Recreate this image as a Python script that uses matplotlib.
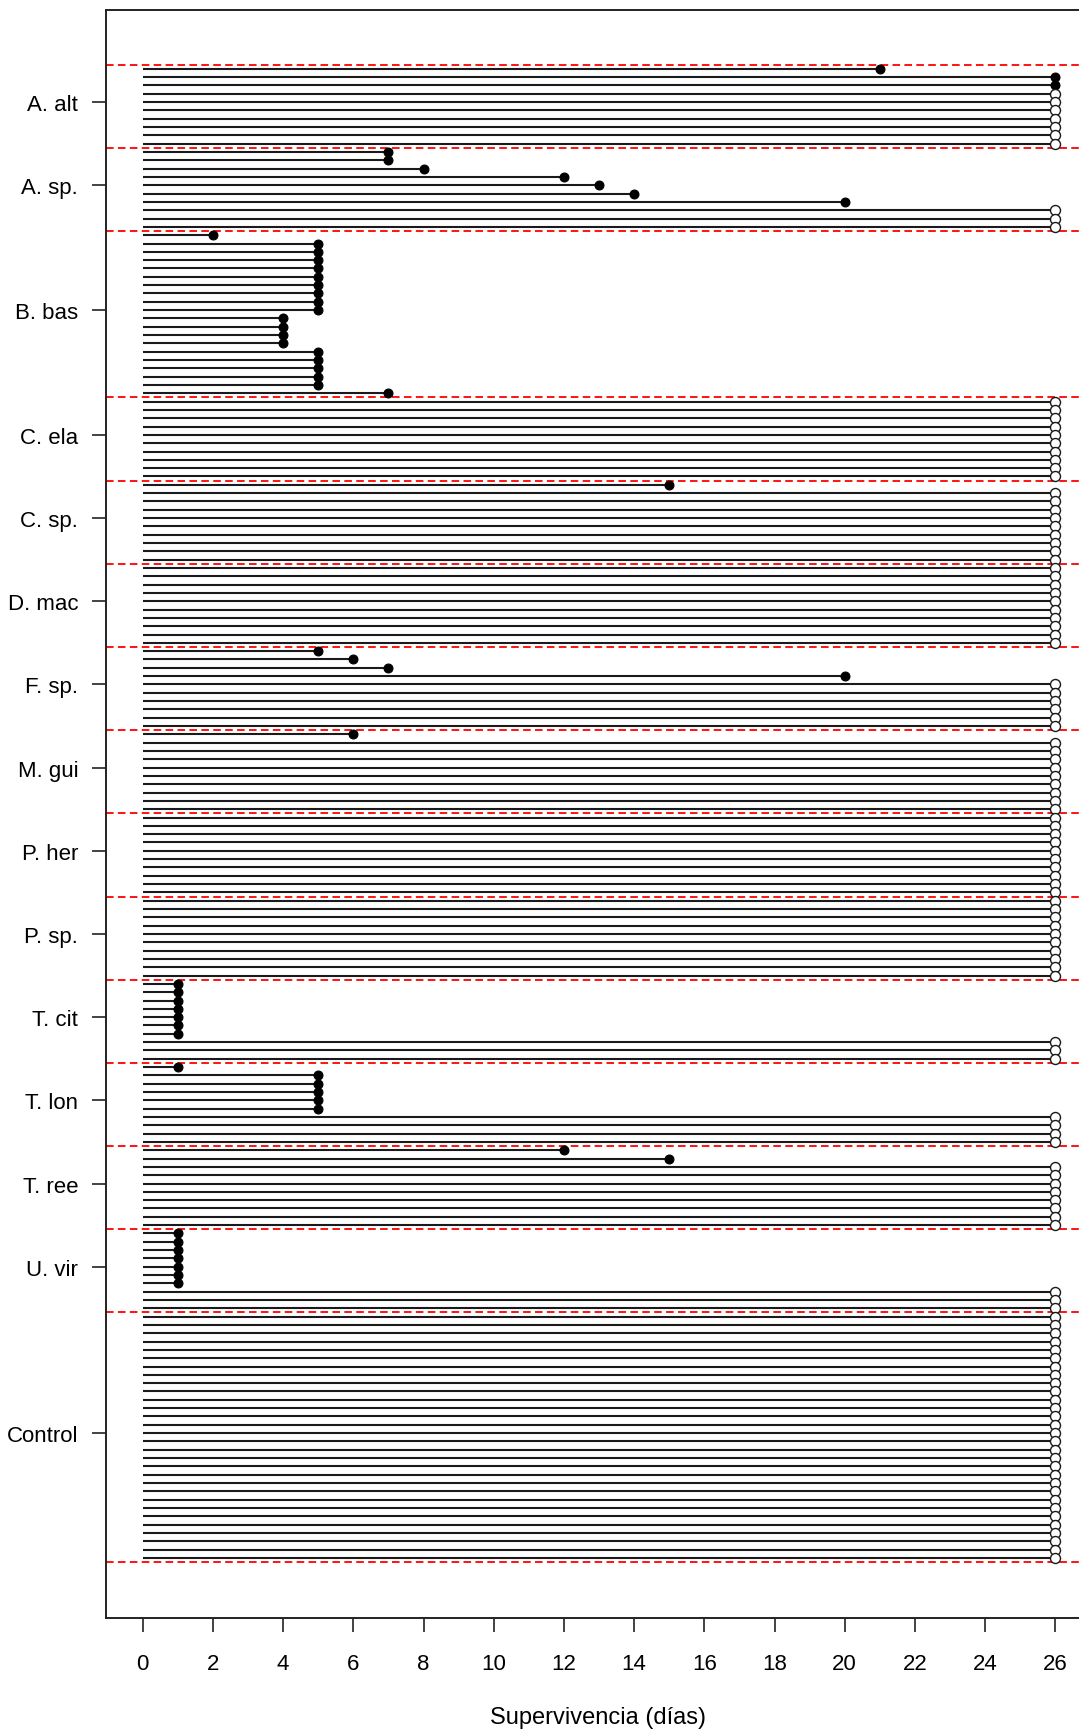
import matplotlib
matplotlib.use("Agg")
import matplotlib.pyplot as plt

plt.rcParams['font.family'] = ['Liberation Sans', 'DejaVu Sans']

groups = ['A. alt', 'A. sp.', 'B. bas', 'C. ela', 'C. sp.', 'D. mac', 'F. sp.',
          'M. gui', 'P. her', 'P. sp.', 'T. cit', 'T. lon', 'T. ree', 'U. vir', 'Control']

# survival days per individual (top to bottom within each group)
days = [
    [21, 26, 26, 26, 26, 26, 26, 26, 26, 26],
    [7, 7, 8, 12, 13, 14, 20, 26, 26, 26],
    [2, 5, 5, 5, 5, 5, 5, 5, 5, 5, 4, 4, 4, 4, 5, 5, 5, 5, 5, 7],
    [26] * 10,
    [15, 26, 26, 26, 26, 26, 26, 26, 26, 26],
    [26] * 10,
    [5, 6, 7, 20, 26, 26, 26, 26, 26, 26],
    [6, 26, 26, 26, 26, 26, 26, 26, 26, 26],
    [26] * 10,
    [26] * 10,
    [1, 1, 1, 1, 1, 1, 1, 26, 26, 26],
    [1, 5, 5, 5, 5, 5, 26, 26, 26, 26],
    [12, 15, 26, 26, 26, 26, 26, 26, 26, 26],
    [1, 1, 1, 1, 1, 1, 1, 26, 26, 26],
    [26] * 30,
]
# 1 = died (filled), 0 = censored (open)
died = [
    [1, 1, 1, 0, 0, 0, 0, 0, 0, 0],
    [1, 1, 1, 1, 1, 1, 1, 0, 0, 0],
    [1] * 20,
    [0] * 10,
    [1, 0, 0, 0, 0, 0, 0, 0, 0, 0],
    [0] * 10,
    [1, 1, 1, 1, 0, 0, 0, 0, 0, 0],
    [1, 0, 0, 0, 0, 0, 0, 0, 0, 0],
    [0] * 10,
    [0] * 10,
    [1, 1, 1, 1, 1, 1, 1, 0, 0, 0],
    [1, 1, 1, 1, 1, 1, 0, 0, 0, 0],
    [1, 1, 0, 0, 0, 0, 0, 0, 0, 0],
    [1, 1, 1, 1, 1, 1, 1, 0, 0, 0],
    [0] * 30,
]
xticks = list(range(0, 27, 2))

W, H = 1079, 1733
fig = plt.figure(figsize=(W / 100, H / 100), dpi=100)
left_px, top_px, bottom_px = 106, 11, 1619
ax = fig.add_axes([left_px / W, (H - bottom_px) / H, 1 - left_px / W, (bottom_px - top_px) / H])

px_per_day = 35.1
x0_px = 142.7
xmin = (left_px - x0_px) / px_per_day
xmax = (W - x0_px) / px_per_day

total = sum(len(d) for d in days)
red_top, red_bot = 65.7, 1563.0
ppu = (red_bot - red_top) / total
ymin = -(red_top - top_px) / ppu
ymax = total + (bottom_px - red_bot) / ppu

ink = '#1a1a1a'
red_style = dict(color='#ff0000', lw=1.3, ls=(0, (4.2, 2.4)), zorder=1)
start = 0
tick_pos = []
ax.axhline(0, **red_style)
for g, (d, s) in enumerate(zip(days, died)):
    n = len(d)
    for i, (t, dd) in enumerate(zip(d, s)):
        y = start + i + 0.5
        ax.plot([0, t], [y, y], color=ink, lw=1.5, solid_capstyle='butt', zorder=2)
        if dd:
            ax.plot(t, y, 'o', ms=6.4, mfc='black', mec='black', mew=0.8, zorder=3)
        else:
            ax.plot(t, y, 'o', ms=7.2, mfc='white', mec=ink, mew=1.0, zorder=3)
    tick_pos.append(start + n // 2 - 1 + 0.5)
    start += n
    ax.axhline(start, **red_style)

ax.set_xlim(xmin, xmax)
ax.set_ylim(ymax, ymin)
ax.set_yticks(tick_pos)
ax.set_yticklabels(groups)
ax.set_xticks(xticks)
ax.set_xticklabels([str(v) for v in xticks])
ax.tick_params(axis='y', length=10, width=1.2, pad=10, labelsize=16, color='#222222')
ax.tick_params(axis='x', length=10, width=1.2, pad=15, labelsize=16, color='#222222')
for sp in ['left', 'top', 'bottom']:
    ax.spines[sp].set_linewidth(1.4)
    ax.spines[sp].set_color('#222222')
ax.spines['right'].set_visible(False)

fig.text(598 / W, (H - 1718) / H, 'Supervivencia (días)', ha='center', va='center', fontsize=17)

fig.savefig('out.png', dpi=100)
